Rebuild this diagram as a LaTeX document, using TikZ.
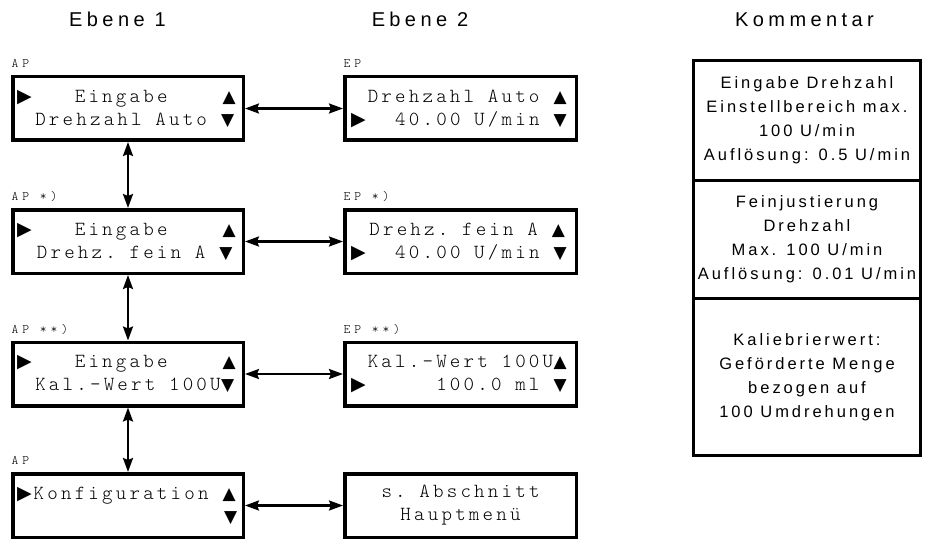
\documentclass[tikz,border=0pt]{standalone}
\usepackage{fontspec}
\usetikzlibrary{arrows.meta}
\setmainfont{Liberation Sans}
\newfontfamily\lcdfont[LetterSpace=16]{lmmonolt10-regular.otf}
\newfontfamily\tagfont[LetterSpace=30]{lmmonolt10-regular.otf}
\newfontfamily\symfont{DejaVu Sans}
\newfontfamily\headfont[LetterSpace=22]{Liberation Sans}
\newfontfamily\comfont[LetterSpace=18]{Liberation Sans}
\newcommand\cellw{13.7pt}
\newcommand\up{\makebox[\cellw][c]{\symfont\fontsize{17}{17}\selectfont ▲}}
\newcommand\dn{\makebox[\cellw][c]{\symfont\fontsize{17}{17}\selectfont ▼}}
\newcommand\rt{\makebox[\cellw][l]{\hspace*{-3pt}\symfont\fontsize{19}{19}\selectfont ▶}}
\newcommand\lcdline[1]{\hbox{#1}}
\begin{document}
\begin{tikzpicture}[x=1pt,y=-1pt,
  lcd/.style={draw, line width=3.5pt, minimum width=230.5pt, minimum height=63.5pt,
    inner sep=0pt, align=center, font=\lcdfont\fontsize{20}{23}\selectfont},
  tag/.style={anchor=base west, inner sep=0pt, font=\tagfont\fontsize{13}{14}\selectfont},
  head/.style={anchor=base, inner sep=0pt, font=\headfont\fontsize{20}{24}\selectfont},
  com/.style={draw, line width=3pt, minimum width=227pt, inner sep=0pt,
    align=center, font=\comfont\fontsize{16.5}{24}\selectfont},
  link/.style={line width=2.2pt, {Stealth[length=14pt,width=10pt,inset=2pt]}-{Stealth[length=14pt,width=10pt,inset=2pt]}}]
\useasboundingbox (0,0) rectangle (925,540);

% headers
\node[head] (h1) at (117.5,27) {Ebene 1};
\node[head] (h2) at (420,27) {Ebene 2};
\node[head] (h3) at (804.5,27) {Kommentar};

% level 1
\node[lcd] (a1) at (128,108.5) {\lcdline{\rt~~~Eingabe~~~~\up}\\\lcdline{~Drehzahl~Auto~\dn}};
\node[lcd] (a2) at (128,241.5) {\lcdline{\rt~~~Eingabe~~~~\up}\\\lcdline{~Drehz.~fein~A~\dn}};
\node[lcd] (a3) at (128,374) {\lcdline{\rt~~~Eingabe~~~~\up}\\\lcdline{~Kal.-Wert~100U\dn}};
\node[lcd] (a4) at (128,505.5) {\lcdline{\rt Konfiguration~\up}\\\lcdline{~~~~~~~~~~~~~~~\dn}};

% level 2
\node[lcd,minimum width=231.5pt] (e1) at (460.5,108.5) {\lcdline{~Drehzahl~Auto~\up}\\\lcdline{\rt~~40.00~U/min~\dn}};
\node[lcd,minimum width=231.5pt] (e2) at (460.5,241.5) {\lcdline{~Drehz.~fein~A~\up}\\\lcdline{\rt~~40.00~U/min~\dn}};
\node[lcd,minimum width=231.5pt] (e3) at (460.5,374) {\lcdline{~Kal.-Wert~100U\up}\\\lcdline{\rt~~~~~100.0~ml~\dn}};
\node[lcd,minimum width=231.5pt] (e4) at (460.5,505.5) {s.~Abschnitt\\Hauptmenü};

% tags
\node[tag] (t1) at ([xshift=0.5pt,yshift=7.5pt]a1.north west) {AP};
\node[tag] (t2) at ([xshift=0.5pt,yshift=7.5pt]a2.north west) {AP~*)};
\node[tag] (t3) at ([xshift=0.5pt,yshift=7.5pt]a3.north west) {AP~**)};
\node[tag] (t4) at ([xshift=0.5pt,yshift=7.5pt]a4.north west) {AP};
\node[tag] (u1) at ([xshift=0.5pt,yshift=7.5pt]e1.north west) {EP};
\node[tag] (u2) at ([xshift=0.5pt,yshift=7.5pt]e2.north west) {EP~*)};
\node[tag] (u3) at ([xshift=0.5pt,yshift=7.5pt]e3.north west) {EP~**)};

% comments
\node[com, minimum height=119.5pt] (c1) at (807,120.25) {Eingabe Drehzahl\\Einstellbereich max.\\100 U/min\\Auflösung: 0.5 U/min};
\node[com, minimum height=118pt] (c2) at (807,239) {Feinjustierung\\Drehzahl\\Max. 100 U/min\\Auflösung: 0.01 U/min};
\node[com, minimum height=157.5pt] (c3) at (807,376.75) {Kaliebrierwert:\\Geförderte Menge\\bezogen auf\\100 Umdrehungen};

% connectors
\draw[link] (a1.south) -- (a2.north);
\draw[link] (a2.south) -- (a3.north);
\draw[link] (a3.south) -- (a4.north);
\draw[link] (a1.east) -- (e1.west);
\draw[link] (a2.east) -- (e2.west);
\draw[link] (a3.east) -- (e3.west);
\draw[link] (a4.east) -- (e4.west);
\end{tikzpicture}
\end{document}
